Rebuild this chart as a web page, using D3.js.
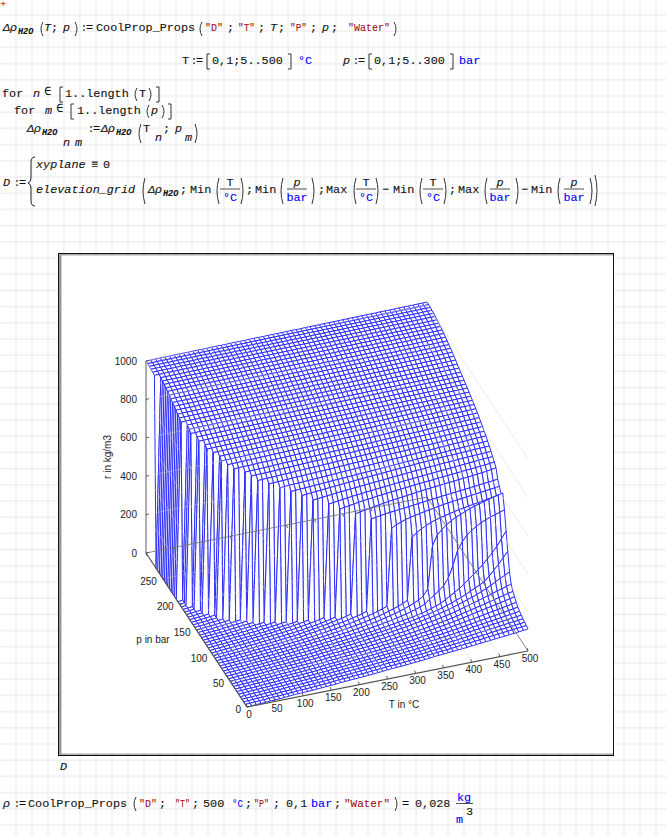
<!DOCTYPE html>
<html>
<head>
<meta charset="utf-8">
<style>
body { margin: 0; background: #fff; }
svg { display: block; }
.math { font-family: "Liberation Mono", monospace; font-size: 11.8px; fill: #111; stroke: #111; stroke-width: 0.1; }
.tick { font-family: "Liberation Sans", Arial, sans-serif; font-size: 10px; fill: #222; }
</style>
<script src="https://cdnjs.cloudflare.com/ajax/libs/d3/7.8.5/d3.min.js"></script>
</head>
<body>
<div id="chart"></div>
<script>
"use strict";

var tick_t = [0, 50, 100, 150, 200, 250, 300, 350, 400, 450, 500];
var tick_p = [0, 50, 100, 150, 200, 250];
var tick_rho = [0, 200, 400, 600, 800, 1000];

// densities, back row first, left column first
var rho_grid = [
[1000,1000,1001,1001,1001,1001,1002,1002,1002,1002, 1003,1003,1003,1003,1004,1004,1004,1004,1005,1005, 1005,1005,1006,1006,1006,1006,1007,1007,1007,1007, 1008,1008,1008,1008,1009,1009,1009,1009,1010,1010, 1010,1010,1011,1011,1011,1011,1012,1012,1012,1012, 1013,1013,1013,1013,1014,1014,1014,1014,1015,1015, 1015],
[1000,1000,1001,1001,1001,1001,1002,1002,1002,1002, 1003,1003,1003,1003,1004,1004,1004,1004,1005,1005, 1005,1005,1006,1006,1006,1006,1007,1007,1007,1007, 1008,1008,1008,1008,1009,1009,1009,1009,1010,1010, 1010,1010,1011,1011,1011,1011,1012,1012,1012,1012, 1013,1013,1013,1013,1014,1014,1014,1014,1015,1015, 1015],
[999,999,1000,1000,1000,1000,1001,1001,1001,1001, 1002,1002,1002,1002,1003,1003,1003,1003,1004,1004, 1004,1004,1005,1005,1005,1005,1006,1006,1006,1006, 1007,1007,1007,1007,1008,1008,1008,1008,1009,1009, 1009,1009,1010,1010,1010,1010,1011,1011,1011,1011, 1012,1012,1012,1012,1013,1013,1013,1013,1014,1014, 1014],
[997,997,998,998,998,998,999,999,999,999, 1000,1000,1000,1000,1001,1001,1001,1001,1002,1002, 1002,1002,1003,1003,1003,1003,1004,1004,1004,1004, 1005,1005,1005,1005,1006,1006,1006,1006,1007,1007, 1007,1007,1008,1008,1008,1008,1009,1009,1009,1009, 1010,1010,1010,1010,1011,1011,1011,1011,1012,1012, 1012],
[995,995,996,996,996,996,997,997,997,997, 998,998,998,998,999,999,999,999,1000,1000, 1000,1000,1001,1001,1001,1001,1002,1002,1002,1002, 1003,1003,1003,1003,1004,1004,1004,1004,1005,1005, 1005,1005,1006,1006,1006,1006,1007,1007,1007,1007, 1008,1008,1008,1008,1009,1009,1009,1009,1010,1010, 1010],
[992,992,993,993,993,993,994,994,994,994, 995,995,995,995,996,996,996,996,997,997, 997,997,998,998,998,998,999,999,999,999, 1000,1000,1000,1000,1001,1001,1001,1001,1002,1002, 1002,1002,1003,1003,1003,1003,1004,1004,1004,1004, 1005,1005,1005,1005,1006,1006,1006,1006,1007,1007, 1007],
[0,988,989,989,989,989,990,990,990,990, 991,991,991,991,992,992,992,992,993,993, 993,993,994,994,994,994,995,995,995,995, 996,996,996,996,997,997,997,997,998,998, 998,998,999,999,999,999,1000,1000,1000,1000, 1001,1001,1001,1001,1002,1002,1002,1002,1003,1003, 1003],
[0,984,985,985,985,985,986,986,986,986, 987,987,987,987,988,988,988,988,989,989, 989,989,990,990,990,990,991,991,991,991, 992,992,992,992,993,993,993,993,994,994, 994,994,995,995,995,995,996,996,996,996, 997,997,997,997,998,998,998,998,999,999, 999],
[0,980,981,981,981,981,982,982,982,982, 983,983,983,983,984,984,984,984,985,985, 985,985,986,986,986,986,987,987,987,987, 988,988,988,988,989,989,989,989,990,990, 990,990,991,991,991,991,992,992,992,992, 993,993,993,993,994,994,994,994,995,995, 995],
[0,975,976,976,976,976,977,977,977,977, 978,978,978,978,979,979,979,979,980,980, 980,980,981,981,981,981,982,982,982,982, 983,983,983,983,984,984,984,984,985,985, 985,985,986,986,986,986,987,987,987,987, 988,988,988,988,989,989,989,989,990,990, 990],
[0,970,971,971,971,971,972,972,972,972, 973,973,973,973,974,974,974,974,975,975, 975,975,976,976,976,976,977,977,977,977, 978,978,978,978,979,979,979,979,980,980, 980,980,981,981,981,981,982,982,982,982, 983,983,983,983,984,984,984,984,985,985, 985],
[0,964,965,965,965,965,966,966,966,966, 967,967,967,967,968,968,968,968,969,969, 969,969,970,970,970,970,971,971,971,971, 972,972,972,972,973,973,973,973,974,974, 974,974,975,975,975,975,976,976,976,976, 977,977,977,977,978,978,978,978,979,979, 979],
[0,958,959,959,959,959,960,960,960,960, 961,961,961,961,962,962,962,962,963,963, 963,963,964,964,964,964,965,965,965,965, 966,966,966,966,967,967,967,967,968,968, 968,968,969,969,969,969,970,970,970,970, 971,971,971,971,972,972,972,972,973,973, 973],
[0,952,953,953,953,953,954,954,954,954, 955,955,955,955,956,956,956,956,957,957, 957,957,958,958,958,958,959,959,959,959, 960,960,960,960,961,961,961,961,962,962, 962,962,963,963,963,963,964,964,964,964, 965,965,965,965,966,966,966,966,967,967, 967],
[0,946,947,947,947,947,948,948,948,948, 949,949,949,949,950,950,950,950,951,951, 951,951,952,952,952,952,953,953,953,953, 954,954,954,954,955,955,955,955,956,956, 956,956,957,957,957,957,958,958,958,958, 959,959,959,959,960,960,960,960,961,961, 961],
[0,939,940,940,940,940,941,941,941,941, 942,942,942,942,943,943,943,943,944,944, 944,944,945,945,945,945,946,946,946,946, 947,947,947,947,948,948,948,948,949,949, 949,949,950,950,950,950,951,951,951,951, 952,952,952,952,953,953,953,953,954,954, 954],
[0,932,933,933,933,933,934,934,934,934, 935,935,935,935,936,936,936,936,937,937, 937,937,938,938,938,938,939,939,939,939, 940,940,940,940,941,941,941,941,942,942, 942,942,943,943,943,943,944,944,944,944, 945,945,945,945,946,946,946,946,947,947, 947],
[0,925,926,926,926,926,927,927,927,927, 928,928,928,928,929,929,929,929,930,930, 930,930,931,931,931,931,932,932,932,932, 933,933,933,933,934,934,934,934,935,935, 935,935,936,936,936,936,937,937,937,937, 938,938,938,938,939,939,939,939,940,940, 940],
[0,917,918,918,918,918,919,919,919,919, 920,920,920,920,921,921,921,921,922,922, 922,922,923,923,923,923,924,924,924,924, 925,925,925,925,926,926,926,926,927,927, 927,927,928,928,928,928,929,929,929,929, 930,930,930,930,931,931,931,931,932,932, 932],
[0,3,911,911,912,912,912,912,913,913, 913,913,914,914,914,914,915,915,915,915, 916,916,916,916,917,917,917,917,918,918, 918,918,919,919,919,919,920,920,920,920, 921,921,921,921,922,922,922,922,923,923, 923,923,924,924,924,924,925,925,925,925, 925],
[0,2,902,902,903,903,903,903,904,904, 904,904,905,905,905,905,906,906,906,906, 907,907,907,907,908,908,908,908,909,909, 909,909,910,910,910,910,911,911,911,911, 912,912,912,912,913,913,913,913,914,914, 914,914,915,915,915,915,916,916,916,917, 917],
[0,2,893,893,894,894,894,895,895,895, 896,896,896,897,897,897,898,898,898,899, 899,899,900,900,900,901,901,901,902,902, 902,903,903,903,904,904,904,905,905,905, 906,906,906,907,907,907,908,908,908,908, 909,909,909,909,909,910,910,910,910,910, 910],
[0,2,5,884,884,885,885,885,886,886, 886,887,887,887,888,888,888,889,889,889, 890,890,890,891,891,891,892,892,892,893, 893,893,894,894,894,895,895,895,896,896, 896,897,897,897,898,898,898,899,899,899, 900,900,900,900,901,901,901,901,902,902, 902],
[0,2,5,875,875,876,876,877,877,877, 878,878,878,879,879,879,880,880,881,881, 881,882,882,882,883,883,883,884,884,885, 885,885,886,886,886,887,887,888,888,888, 889,889,889,890,890,890,891,891,892,892, 892,893,893,893,894,894,894,895,895,895, 895],
[0,2,5,8,865,865,866,866,867,867, 867,868,868,869,869,870,870,870,871,871, 872,872,872,873,873,874,874,875,875,875, 876,876,877,877,877,878,878,879,879,880, 880,880,881,881,882,882,883,883,883,884, 884,885,885,885,886,886,887,887,887,888, 888],
[0,2,5,7,856,856,857,857,858,858, 859,859,859,860,860,861,861,862,862,862, 863,863,864,864,865,865,866,866,866,867, 867,868,868,869,869,869,870,870,871,871, 872,872,873,873,873,874,874,875,875,876, 876,876,877,877,878,878,879,879,880,880, 880],
[0,2,4,7,10,846,846,847,847,848, 848,849,849,850,850,851,851,852,852,853, 853,853,854,854,855,855,856,856,857,857, 858,858,859,859,860,860,861,861,862,862, 863,863,864,864,865,865,866,866,867,867, 868,868,869,869,870,870,871,871,872,872, 872],
[0,2,4,7,10,13,835,836,836,837, 837,838,839,839,840,840,841,841,842,842, 843,844,844,845,845,846,846,847,847,848, 849,849,850,850,851,851,852,852,853,854, 854,855,855,856,856,857,857,858,858,859, 860,860,861,861,862,862,863,863,864,864, 864],
[0,2,4,7,9,12,824,825,825,826, 826,827,828,828,829,829,830,831,831,832, 832,833,834,834,835,836,836,837,837,838, 839,839,840,840,841,842,842,843,843,844, 845,845,846,846,847,848,848,849,849,850, 851,851,852,853,853,854,854,855,855,856, 856],
[0,2,4,7,9,12,14,813,814,814, 815,816,816,817,818,818,819,820,820,821, 822,822,823,824,824,825,826,826,827,828, 828,829,830,830,831,832,832,833,834,834, 835,836,836,837,838,838,839,840,840,841, 842,842,843,843,844,845,845,846,846,847, 847],
[0,2,4,6,9,11,14,17,800,801, 802,802,803,804,805,805,806,807,808,808, 809,810,811,811,812,813,814,814,815,816, 817,817,818,819,820,820,821,822,823,823, 824,825,826,826,827,828,829,829,830,831, 832,832,833,834,835,835,836,837,838,838, 839],
[0,2,4,6,9,11,14,16,19,22, 787,788,789,789,790,791,792,793,794,794, 795,796,797,798,798,799,800,801,802,803, 803,804,805,806,807,807,808,809,810,811, 812,812,813,814,815,816,817,817,818,819, 820,821,821,822,823,824,825,826,826,827, 828],
[0,2,4,6,8,11,13,16,18,21, 24,775,776,777,777,778,779,780,781,782, 783,784,785,786,787,787,788,789,790,791, 792,793,794,795,796,797,797,798,799,800, 801,802,803,804,805,806,807,807,808,809, 810,811,812,813,814,815,816,816,817,817, 818],
[0,2,4,6,8,10,13,15,18,20, 23,25,760,761,762,763,764,765,766,767, 768,769,770,771,772,773,774,775,776,777, 778,779,780,781,782,783,784,785,786,787, 788,789,790,791,792,793,794,795,796,797, 798,799,800,801,802,803,804,805,806,807, 808],
[0,2,4,6,8,10,12,15,17,20, 22,25,27,30,746,747,748,749,750,752, 753,754,755,756,757,758,759,760,761,763, 764,765,766,767,768,769,770,772,773,774, 775,776,777,778,779,781,782,783,784,785, 786,787,788,790,791,792,793,794,795,796, 797],
[0,2,4,6,8,10,12,14,17,19, 22,24,27,29,32,35,730,731,733,734, 735,736,738,739,740,742,743,744,745,747, 748,749,751,752,753,754,756,757,758,760, 761,762,763,765,766,767,769,770,771,772, 774,775,776,778,779,780,781,783,784,785, 786],
[0,2,4,6,8,10,12,14,16,19, 21,23,26,28,31,34,37,40,714,715, 717,718,720,721,722,724,725,727,728,729, 731,732,734,735,736,738,739,741,742,743, 745,746,748,749,750,752,753,755,756,757, 759,760,762,763,764,766,767,769,770,771, 773],
[0,2,4,6,8,10,12,14,16,18, 20,23,25,28,30,33,36,39,42,46, 696,699,701,703,705,707,709,711,713,715, 717,719,721,722,724,726,728,729,731,733, 735,736,738,739,741,743,744,746,747,749, 750,751,752,753,754,755,756,757,758,759, 760],
[0,2,4,6,8,10,12,14,17,19, 21,23,26,28,31,34,37,40,43,47, 51,56,676,679,681,684,686,689,691,693, 695,697,699,701,703,705,707,709,711,713, 715,717,719,721,723,724,726,728,729,731, 733,734,736,737,739,740,741,742,743,744, 746],
[0,2,4,6,8,10,12,14,16,18, 20,23,25,28,30,33,35,38,41,45, 49,53,57,62,68,654,658,661,664,667, 670,673,675,678,680,683,685,687,689,692, 694,696,698,700,702,704,706,708,710,712, 714,715,717,719,721,723,725,727,729,730, 732],
[0,2,4,5,7,9,11,13,15,17, 20,22,24,26,29,31,34,36,39,42, 46,49,53,57,62,67,74,632,636,640, 644,648,651,654,657,660,663,665,668,670, 673,675,677,680,682,684,686,688,691,693, 695,697,699,701,703,705,707,709,711,714, 717],
[0,2,4,5,7,9,11,13,15,17, 19,21,23,25,28,30,33,35,38,42, 46,49,53,57,61,66,71,76,82,89, 606,611,616,620,624,628,632,636,639,642, 645,648,651,654,657,660,662,665,667,670, 672,674,677,679,681,684,686,689,692,696, 700],
[0,2,3,5,7,9,11,13,15,17, 19,21,23,25,27,30,32,34,37,42, 45,48,52,55,59,63,67,71,76,81, 87,93,102,578,582,586,590,593,595,598, 600,603,606,609,612,615,617,620,623,625, 628,630,633,635,638,640,643,646,648,651, 654],
[0,2,3,5,7,9,11,13,15,17, 19,20,22,24,27,29,31,34,36,39, 42,45,48,51,55,58,62,66,71,76, 81,86,92,98,105,113,122,525,537,546, 555,561,566,571,576,580,585,589,593,597, 600,603,606,609,612,615,618,621,624,627, 630],
[0,2,3,5,7,9,10,12,14,16, 18,20,22,24,26,28,31,33,35,38, 41,43,46,49,52,55,59,62,66,70, 74,79,83,89,95,102,109,117,125,135, 147,470,490,505,517,528,536,543,549,555, 560,565,570,574,578,582,586,590,594,598, 603],
[0,2,3,5,7,8,10,12,14,16, 18,19,21,23,25,28,30,32,34,37, 40,42,45,47,50,53,56,59,63,66, 70,74,78,83,88,94,100,106,113,121, 130,140,152,168,200,420,470,495,515,530, 545,555,565,575,583,590,597,604,610,616, 622],
[0,2,3,5,6,8,10,12,13,15, 17,19,21,23,25,27,29,31,33,35, 38,40,43,45,48,51,54,57,60,63, 66,70,73,77,82,86,91,96,101,107, 114,121,129,140,160,175,195,215,250,310, 385,425,455,475,490,505,515,525,532,540, 548],
[0,2,3,5,6,8,10,11,13,15, 17,18,20,22,24,26,28,30,32,34, 37,39,41,44,46,49,51,54,57,60, 63,66,69,73,76,80,84,88,92,96, 100,105,110,117,125,133,142,155,170,185, 200,218,238,258,278,300,325,352,380,415, 450],
[0,1,3,5,6,8,10,11,13,15, 17,18,20,22,24,26,27,29,31,34, 37,39,41,43,46,48,51,53,56,59, 62,65,68,71,74,78,82,85,89,94, 98,103,108,113,119,125,132,140,148,157, 167,177,189,201,213,225,248,275,300,330, 358],
[0,1,3,5,6,8,9,11,13,14, 16,18,19,21,23,25,27,28,30,33, 36,38,40,42,45,47,50,52,55,58, 60,63,66,69,72,75,79,82,86,91, 95,99,104,109,114,120,126,132,139,147, 155,163,172,181,191,202,214,227,240,252, 265],
[0,1,3,4,6,8,9,11,12,14, 16,17,19,21,22,24,26,28,30,32, 35,37,39,41,43,46,48,50,53,55, 58,61,63,66,69,72,75,78,81,86, 90,94,98,102,107,112,117,122,128,135, 142,149,156,163,170,178,185,193,200,208, 215],
[0,1,3,4,6,7,9,11,12,14, 16,17,19,20,22,24,25,27,29,31, 34,36,38,40,42,44,46,49,51,53, 56,58,61,63,66,69,72,75,78,81, 85,88,92,96,100,105,109,114,119,125, 131,137,142,148,154,160,166,172,178,184, 190],
[0,1,3,4,6,7,9,10,12,13, 15,17,18,20,21,23,25,27,28,30, 33,35,37,39,41,43,45,47,49,52, 54,56,59,61,64,66,69,72,75,78, 82,85,88,92,96,100,104,109,114,119, 124,129,134,139,144,149,154,159,164,170, 175],
[0,1,3,4,6,7,9,10,12,13, 15,16,18,19,21,23,24,26,28,30, 33,34,36,38,40,42,44,46,48,50, 52,54,57,59,61,64,66,69,72,75, 79,82,85,88,92,95,99,103,107,111, 115,119,123,128,132,137,141,146,150,155, 160],
[0,1,3,4,5,7,8,10,11,13, 15,16,18,19,21,22,24,26,28,30, 33,34,36,38,39,41,43,45,47,49, 52,54,56,58,61,63,65,68,70,73, 76,79,82,85,88,91,95,98,102,105, 109,113,117,120,124,128,132,136,140,144, 148],
[0,1,3,4,5,7,8,10,11,13, 15,16,17,19,20,22,24,25,27,29, 32,33,35,37,39,41,43,45,47,49, 51,53,55,57,59,61,64,66,69,71, 74,77,79,82,85,88,91,94,97,101, 106,109,112,116,119,122,126,129,133,136, 140],
[0,1,3,4,5,7,8,10,11,13, 15,16,17,19,20,22,23,25,27,29, 32,33,35,37,38,40,42,44,46,48, 50,52,54,56,58,60,62,64,67,69, 72,74,77,80,83,86,89,92,95,99, 103,106,109,112,115,118,121,124,127,130, 133],
[0,1,3,4,5,7,8,10,11,13, 15,16,17,18,20,21,23,25,26,28, 31,32,34,36,38,39,41,43,45,47, 49,51,53,55,57,59,61,63,65,68, 71,73,76,78,81,83,86,89,92,95, 99,102,104,107,110,113,116,119,122,124, 127],
[0,1,3,4,5,7,8,9,11,12, 14,16,17,18,20,21,23,24,26,28, 31,32,34,35,37,39,41,43,45,47, 49,51,52,54,56,58,60,62,64,67, 70,72,74,77,79,82,84,87,90,93, 96,98,101,104,107,110,112,115,118,120, 123],
[0,1,3,4,5,7,8,9,11,12, 14,15,17,18,19,21,22,24,26,28, 31,32,33,35,37,38,40,42,44,46, 48,50,51,53,55,57,59,61,63,66, 69,71,73,75,78,80,83,85,88,90, 93,96,98,101,104,106,109,111,114,116, 119],
[0,1,3,4,5,7,8,9,11,13, 15,16,17,18,19,21,22,24,25,27, 30,31,33,34,36,37,39,41,43,45, 48,49,51,52,54,56,58,60,62,65, 68,70,72,74,76,78,80,82,85,87, 90,92,94,97,99,101,104,106,109,112, 115]
];

var width = 666, height = 836;
var origin = { x: 247, y: 707 };
var blue = "#0000ff", strcol = "#a01010";

var svg = d3.select("#chart").append("svg")
    .attr("width", width)
    .attr("height", height);

// the reference is a scaled screenshot, soften the mesh a little
svg.append("defs").append("filter").attr("id", "soft")
    .append("feGaussianBlur").attr("stdDeviation", 0.4);

// worksheet paper
var paper = svg.append("g").attr("stroke", "#f0f0f0").attr("stroke-width", 1.6);
d3.range(16, width, 16).forEach(function(x) {
    paper.append("line").attr("x1", x).attr("x2", x).attr("y1", 0).attr("y2", height);
});
d3.range(15, height, 16.2).forEach(function(y) {
    paper.append("line").attr("x1", 0).attr("x2", width).attr("y1", y).attr("y2", y);
});

// frame of the plot
svg.append("rect").attr("x", 58.5).attr("y", 253.5).attr("width", 555).attr("height", 502)
    .attr("fill", "#fff").attr("stroke", "#111").attr("stroke-width", 1);
svg.append("rect").attr("x", 59).attr("y", 254).attr("width", 2.5).attr("height", 501).attr("fill", "#999");
svg.append("rect").attr("x", 59).attr("y", 254).attr("width", 554).attr("height", 1.5).attr("fill", "#aaa");
svg.append("rect").attr("x", 59).attr("y", 753.5).attr("width", 554).attr("height", 1.5).attr("fill", "#aaa");

// parallel projection, every data axis adds a screen vector
var tx = d3.scaleLinear().domain([0, 500]).range([0, 281]);
var ty = d3.scaleLinear().domain([0, 500]).range([0, -56]);
var px = d3.scaleLinear().domain([0, 300]).range([0, -101]);
var py = d3.scaleLinear().domain([0, 300]).range([0, -154]);
var zy = d3.scaleLinear().domain([0, 1000]).range([0, -192]);

function project(t, p, rho) {
    return [origin.x + tx(t) + px(p), origin.y + ty(t) + py(p) + zy(rho)];
}

var n_rows = rho_grid.length, n_cols = rho_grid[0].length;
var col_t = d3.scaleLinear().domain([0, n_cols - 1]).range([0, 500]);
var row_p = d3.scaleLinear().domain([0, n_rows - 1]).range([300, 0]);

// back cells first so the nearer ones hide them
var cells = [];
d3.range(n_rows - 1).forEach(function(r) {
    d3.range(n_cols - 2, -1, -1).forEach(function(c) {
        cells.push({ r: r, c: c });
    });
});

function grid_point(r, c) {
    return project(col_t(c), row_p(r), rho_grid[r][c]);
}

var cell_line = d3.line();
svg.append("g").attr("filter", "url(#soft)").selectAll("path")
    .data(cells)
    .enter()
    .append("path")
    .attr("fill", "#fff")
    .attr("stroke", "#2d2dff")
    .attr("stroke-width", 1)
    .attr("stroke-linejoin", "round")
    .attr("d", function(d) {
        return cell_line([
            grid_point(d.r, d.c), grid_point(d.r, d.c + 1),
            grid_point(d.r + 1, d.c + 1), grid_point(d.r + 1, d.c)
        ]) + "Z";
    });

function seg(g, a, b, color, w) {
    g.append("line")
        .attr("x1", a[0]).attr("y1", a[1])
        .attr("x2", b[0]).attr("y2", b[1])
        .attr("stroke", color).attr("stroke-width", w);
}

// faint grid on floor and walls
var faint = svg.append("g").attr("opacity", 0.55);
tick_rho.slice(1).forEach(function(v) {
    seg(faint, project(500, 300, v), project(500, 0, v), "#d8d8d8", 0.9);
    seg(faint, project(0, 300, v), project(0, 0, v), "#dddddd", 0.7);
    seg(faint, project(0, 300, v), project(500, 300, v), "#dddddd", 0.7);
});
tick_t.slice(1, -1).forEach(function(v) {
    seg(faint, project(v, 0, 0), project(v, 300, 0), "#cfcfcf", 0.7);
});
tick_p.slice(1).forEach(function(v) {
    seg(faint, project(0, v, 0), project(500, v, 0), "#cfcfcf", 0.7);
});

// axes, the back ones show through the mesh
var axes = svg.append("g");
seg(axes, project(0, 300, 0), project(500, 300, 0), "#777", 0.9);
seg(axes, project(500, 300, 0), project(500, 0, 0), "#777", 0.9);
seg(axes, project(0, 0, 0), project(500, 0, 0), "#555", 1.2);
seg(axes, project(0, 0, 0), project(0, 300, 0), "#555", 1.2);
seg(axes, project(0, 300, 0), project(0, 300, 1000), "#777", 1.2);

tick_t.forEach(function(v) {
    var a = project(v, 0, 0);
    seg(axes, a, [a[0] - 1, a[1] - 3], "#444", 0.8);
    var b = project(v, 300, 0);
    seg(axes, b, [b[0] + 1, b[1] + 3], "#444", 0.8);
    svg.append("text").attr("class", "tick")
        .attr("x", a[0] + 2).attr("y", a[1] + 11)
        .attr("text-anchor", "middle")
        .text(v);
});
tick_p.forEach(function(v) {
    var a = project(0, v, 0);
    seg(axes, a, [a[0] + 3, a[1] - 0.6], "#444", 0.8);
    svg.append("text").attr("class", "tick")
        .attr("x", a[0] - 6).attr("y", a[1] + 6)
        .attr("text-anchor", "end")
        .text(v);
});
tick_rho.forEach(function(v) {
    var a = project(0, 300, v);
    seg(axes, a, [a[0] + 3, a[1] - 0.6], "#444", 0.8);
    svg.append("text").attr("class", "tick")
        .attr("x", a[0] - 9).attr("y", a[1] + 3.5)
        .attr("text-anchor", "end")
        .text(v);
});

svg.append("text").attr("class", "tick").attr("x", 404).attr("y", 708).attr("text-anchor", "middle").text("T in °C");
svg.append("text").attr("class", "tick").attr("x", 153).attr("y", 643).attr("text-anchor", "middle").text("p in bar");
svg.append("text").attr("class", "tick").attr("text-anchor", "middle")
    .attr("transform", "translate(111,457) rotate(-90)").text("r in kg/m3");

// the worksheet formulas
function put(x, y, str, style) {
    style = style || {};
    var t = svg.append("text").attr("class", "math")
        .attr("x", x).attr("y", y)
        .attr("font-style", style.it ? "italic" : null)
        .attr("font-weight", style.bold ? "bold" : null)
        .style("fill", style.color || null)
        .style("stroke", style.color || null)
        .style("font-size", style.size ? style.size + "px" : null)
        .text(str);
    if (style.len) {
        t.attr("textLength", style.len).attr("lengthAdjust", "spacingAndGlyphs");
    }
    return t;
}

function str(x, y, s, len) {
    return put(x, y, s, { color: strcol, len: len });
}

function rho_h2o(x, y) {
    put(x, y, "Δρ", { it: true });
    put(x + 15, y + 3, "H2O", { it: true, bold: true, size: 8.5 });
}

function paren(x, y0, y1, dir) {
    var mid = (y0 + y1) / 2;
    svg.append("path")
        .attr("d", "M" + (x + dir * 2) + "," + y0 + "Q" + (x - dir * 2) + "," + mid + " " + (x + dir * 2) + "," + y1)
        .attr("fill", "none").attr("stroke", "#333").attr("stroke-width", 1);
}

function bracket(x, y0, y1, dir) {
    svg.append("path")
        .attr("d", "M" + (x + dir * 3) + "," + y0 + "H" + x + "V" + y1 + "H" + (x + dir * 3))
        .attr("fill", "none").attr("stroke", "#333").attr("stroke-width", 1);
}

function assign(x, y) {
    put(x, y, ":", { size: 10 });
    put(x + 5, y, "=", {});
}

function fraction(x, y, top, bot) {
    put(x, y - 3, top[0], { it: top[1] }).attr("text-anchor", "middle");
    put(x, y + 12, bot, { color: blue }).attr("text-anchor", "middle");
    svg.append("line").attr("x1", x - 10).attr("x2", x + 10).attr("y1", y).attr("y2", y)
        .attr("stroke", "#222").attr("stroke-width", 0.8);
}

put(0.5, 7, "+", { color: "#e00000", size: 9 });

// line 1
rho_h2o(3, 31);
paren(41, 22, 36, 1);
put(44, 31, "T", { it: true });
put(51, 31, ";");
put(63, 31, "p", { it: true });
paren(77, 22, 36, -1);
assign(81, 31);
put(96, 31, "CoolProp_Props");
paren(200, 22, 36, 1);
str(205, 31, "\"D\"", 18);
put(227, 31, ";");
str(238, 31, "\"T\"", 17);
put(258, 31, ";");
put(270, 31, "T", { it: true });
put(278, 31, ";");
str(290, 31, "\"P\"", 17);
put(310, 31, ";");
put(322, 31, "p", { it: true });
put(331, 31, ";");
str(348, 31, "\"Water\"", 42);
paren(396, 22, 36, -1);

// line 2
put(182, 64, "T");
assign(191, 64);
bracket(207, 54, 69, 1);
put(212, 64, "0,1;5..500");
bracket(291, 54, 69, -1);
put(298, 64, "°C", { color: blue });
put(343, 64, "p", { it: true });
assign(353, 64);
bracket(369, 54, 69, 1);
put(374, 64, "0,1;5..300");
bracket(453, 54, 69, -1);
put(459, 64, "bar", { color: blue });

// loops
put(2, 97, "for");
put(33, 97, "n", { it: true });
put(44, 95, "∈");
bracket(60, 87, 102, 1);
put(65, 97, "1..length");
paren(135, 88, 101, 1);
put(139, 97, "T");
paren(151, 88, 101, -1);
bracket(159, 87, 102, -1);
put(14, 114, "for");
put(45, 114, "m", { it: true });
put(56, 112, "∈");
bracket(71, 104, 119, 1);
put(77, 114, "1..length");
paren(147, 105, 118, 1);
put(151, 114, "p", { it: true });
paren(164, 105, 118, -1);
bracket(171, 104, 119, -1);

rho_h2o(27, 132);
put(63, 146, "n", { it: true });
put(75, 146, "m", { it: true });
assign(88, 132);
rho_h2o(101, 132);
paren(139, 124, 143, 1);
put(143, 132, "T");
put(155, 141, "n", { it: true });
put(163, 132, ";");
put(175, 132, "p", { it: true });
put(185, 141, "m", { it: true });
paren(197, 124, 143, -1);

// definition of D
svg.append("path")
    .attr("d", "M35,157Q31,157 31,162V178Q31,182 28,183Q31,184 31,188V201Q31,206 35,206")
    .attr("fill", "none").attr("stroke", "#222").attr("stroke-width", 1);
put(36, 168, "xyplane", { it: true });
put(91, 168, "≡", { bold: true });
put(103, 168, "0");
put(3, 186, "D", { it: true });
assign(14, 186);
put(36, 193, "elevation_grid", { it: true });
paren(143, 178, 204, 1);
rho_h2o(148, 193);
put(180, 193, ";");
put(190, 193, "Min");
paren(217, 178, 204, 1);
fraction(230, 189, ["T", false], "°C");
paren(243, 178, 204, -1);
put(246, 193, ";");
put(255, 193, "Min");
paren(281, 178, 204, 1);
fraction(297, 189, ["p", true], "bar");
paren(314, 178, 204, -1);
put(318, 193, ";");
put(326, 193, "Max");
paren(354, 178, 204, 1);
fraction(366, 189, ["T", false], "°C");
paren(378, 178, 204, -1);
put(382, 193, "−");
put(393, 193, "Min");
paren(420, 178, 204, 1);
fraction(433, 189, ["T", false], "°C");
paren(446, 178, 204, -1);
put(449, 193, ";");
put(458, 193, "Max");
paren(485, 178, 204, 1);
fraction(500, 189, ["p", true], "bar");
paren(518, 178, 204, -1);
put(521, 193, "−");
put(531, 193, "Min");
paren(558, 178, 204, 1);
fraction(574, 189, ["p", true], "bar");
paren(592, 178, 204, -1);
paren(597, 175, 206, -1);

// below the plot
put(60, 770, "D", { it: true });
put(3, 807, "ρ", { it: true });
assign(14, 807);
put(28, 807, "CoolProp_Props");
paren(134, 797, 811, 1);
str(139, 807, "\"D\"", 18);
put(159, 807, ";");
str(175, 807, "\"T\"", 15);
put(192, 807, ";");
put(203, 807, "500");
put(232, 807, "°C", { color: blue, len: 11 });
put(245, 807, ";");
str(254, 807, "\"P\"", 15);
put(273, 807, ";");
put(286, 807, "0,1");
put(311, 807, "bar", { color: blue });
put(334, 807, ";");
str(344, 807, "\"Water\"", 46);
paren(397, 797, 811, -1);
put(402, 807, "=");
put(415, 807, "0,028");
put(457, 801, "kg", { color: blue });
svg.append("line").attr("x1", 456).attr("x2", 473).attr("y1", 803.5).attr("y2", 803.5)
    .attr("stroke", "#222").attr("stroke-width", 0.8);
put(456, 823, "m", { color: blue });
put(466, 815, "3");
</script>
</body>
</html>
